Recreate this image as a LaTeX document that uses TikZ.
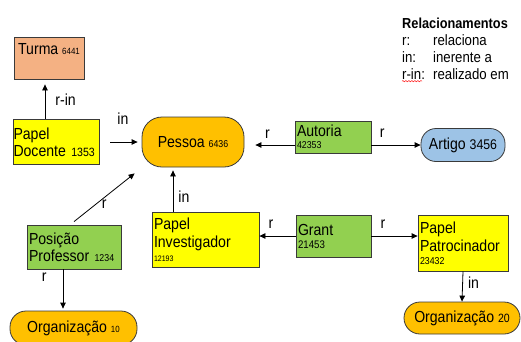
\documentclass[tikz,border=0pt]{standalone}
\usepackage{fontspec}
\setmainfont[FakeStretch=0.88]{Liberation Sans}
\usetikzlibrary{arrows.meta,decorations.pathmorphing}

\definecolor{turmafill}{HTML}{F4B183}
\definecolor{papelfill}{HTML}{FFFF00}
\definecolor{relfill}{HTML}{92D050}
\definecolor{entfill}{HTML}{FFC000}
\definecolor{artfill}{HTML}{9DC3E6}
\definecolor{rim}{HTML}{3A3A3A}

% numero pequeno ao lado do nome
\newcommand{\idn}[2]{{\fontsize{#1}{#1}\selectfont #2}}

\tikzset{
  box/.style={draw=rim, line width=0.8pt, rectangle, align=left, inner xsep=2pt, inner ysep=1pt},
  pill/.style={draw=rim, line width=0.8pt, rectangle, rounded corners=15pt, inner sep=2pt},
  arr/.style={-{Triangle[length=6pt,width=5.5pt]}, line width=0.8pt},
  lbl/.style={inner sep=2pt},
  legend/.style={anchor=base west, inner sep=0pt, font=\fontsize{15}{17}\selectfont}
}

\begin{document}
\begin{tikzpicture}[x=1pt, y=-1pt, font=\fontsize{16}{18}\selectfont]
\path[use as bounding box, fill=white] (0,0) rectangle (521,341);

% legenda
\node[legend, font=\fontsize{14.5}{17}\selectfont\bfseries] (ltitle) at (402,28) {Relacionamentos};
\node[legend] (kr)  at (402,45) {r:};
\node[legend] (kin) at (402,62) {in:};
\node[legend] (kri) at (402,79) {r-in:};
\node[legend] (dr)  at (433,45) {relaciona};
\node[legend] (din) at (433,62) {inerente a};
\node[legend] (dri) at (433,79) {realizado em};
\draw[red, decorate, decoration={snake, amplitude=0.7pt, segment length=3pt}]
  ([yshift=-2pt]kri.south west) -- ([xshift=-3pt,yshift=-2pt]kri.south east);

% entidades
\node[box, fill=turmafill, minimum width=70pt, minimum height=42pt, text height=14pt, text depth=22pt] (turma) at (49,58) {Turma \idn{9}{6441}};
\node[box, fill=papelfill, text width=85pt, inner xsep=0.5pt, minimum height=45pt] (docente) at (56,142) {Papel\\[-1pt]Docente \idn{12}{1353}};
\node[pill, fill=entfill, minimum width=102pt, minimum height=50pt, rounded corners=20pt] (pessoa) at (193,142) {Pessoa \idn{10}{6436}};
\node[box, fill=relfill, text width=72pt, minimum height=32pt] (autoria) at (333,137) {Autoria\\[-6pt]\idn{10}{42353}};
\node[pill, fill=artfill, minimum width=84pt, minimum height=33pt] (artigo) at (463,145) {Artigo \idn{14}{3456}};
\node[box, fill=relfill, text width=90pt, minimum height=44pt] (posicao) at (74,247) {Posição\\[-1pt]Professor \idn{10}{1234}};
\node[box, fill=papelfill, text width=103pt, minimum height=55pt] (investigador) at (205.5,239.5) {Papel\\Investigador\\[-4pt]\idn{8}{12193}};
\node[box, fill=relfill, text width=71pt, minimum height=42pt] (grant) at (333.5,236) {Grant\\[-5pt]\idn{11}{21453}};
\node[box, fill=papelfill, text width=86pt, minimum height=56pt] (patrocinador) at (463,243) {Papel\\Patrocinador\\[-5pt]\idn{10}{23432}};
\node[pill, fill=entfill, minimum width=127pt, minimum height=34pt, rounded corners=16pt] (org10) at (73.5,328) {Organização \idn{9}{10}};
\node[pill, fill=entfill, minimum width=116pt, minimum height=32pt, rounded corners=16pt] (org20) at (462,318) {Organização \idn{12}{20}};

% pontos de partida
\coordinate (dtop) at ([xshift=-11pt]docente.north);
\coordinate (dright) at ([xshift=11pt]docente.east);
\coordinate (ptop) at ([yshift=3pt]posicao.north);
\coordinate (pbot) at ([xshift=-11pt]posicao.south);
\coordinate (itop) at ([xshift=-32.5pt]investigador.north);
\coordinate (ptip) at ([xshift=-7pt,yshift=-6pt]pessoa.south west);

% relacionamentos
\draw[arr, shorten >=5pt] (dtop) -- (dtop |- turma.south) node[lbl, right=8pt, pos=.5] (lrin) {r-in};
\draw[arr, shorten >=4pt] (dright) -- (pessoa.west) node[lbl, above=15pt, pos=.4] (lin1) {in};
\draw[arr, shorten >=11pt] (autoria.west |- artigo) -- (pessoa.east |- artigo) node[lbl, above=4pt, pos=.54] (lr1) {r};
\draw[arr] (autoria.east |- artigo) -- (artigo.west) node[lbl, above=5pt, pos=.22] (lr2) {r};
\draw[arr] (ptop) -- (ptip) node[lbl, below=0pt, pos=.5] (lr3) {r};
\draw[arr, shorten >=2pt] (pbot) -- (pbot |- org10.north) node[lbl, left=14pt, pos=.2] (lr4) {r};
\draw[arr, shorten >=3pt] (itop) -- (itop |- pessoa.south) node[lbl, right=3pt, pos=.33] (lin2) {in};
\draw[arr] (grant.west) -- (grant.west -| investigador.east) node[lbl, above=5pt, pos=.68] (lr5) {r};
\draw[arr] (grant.east) -- (grant.east -| patrocinador.west) node[lbl, above=5pt, pos=.25] (lr6) {r};
\draw[arr] (patrocinador.south) -- (org20.north) node[lbl, right=3pt, pos=.37] (lin3) {in};
\end{tikzpicture}
\end{document}
